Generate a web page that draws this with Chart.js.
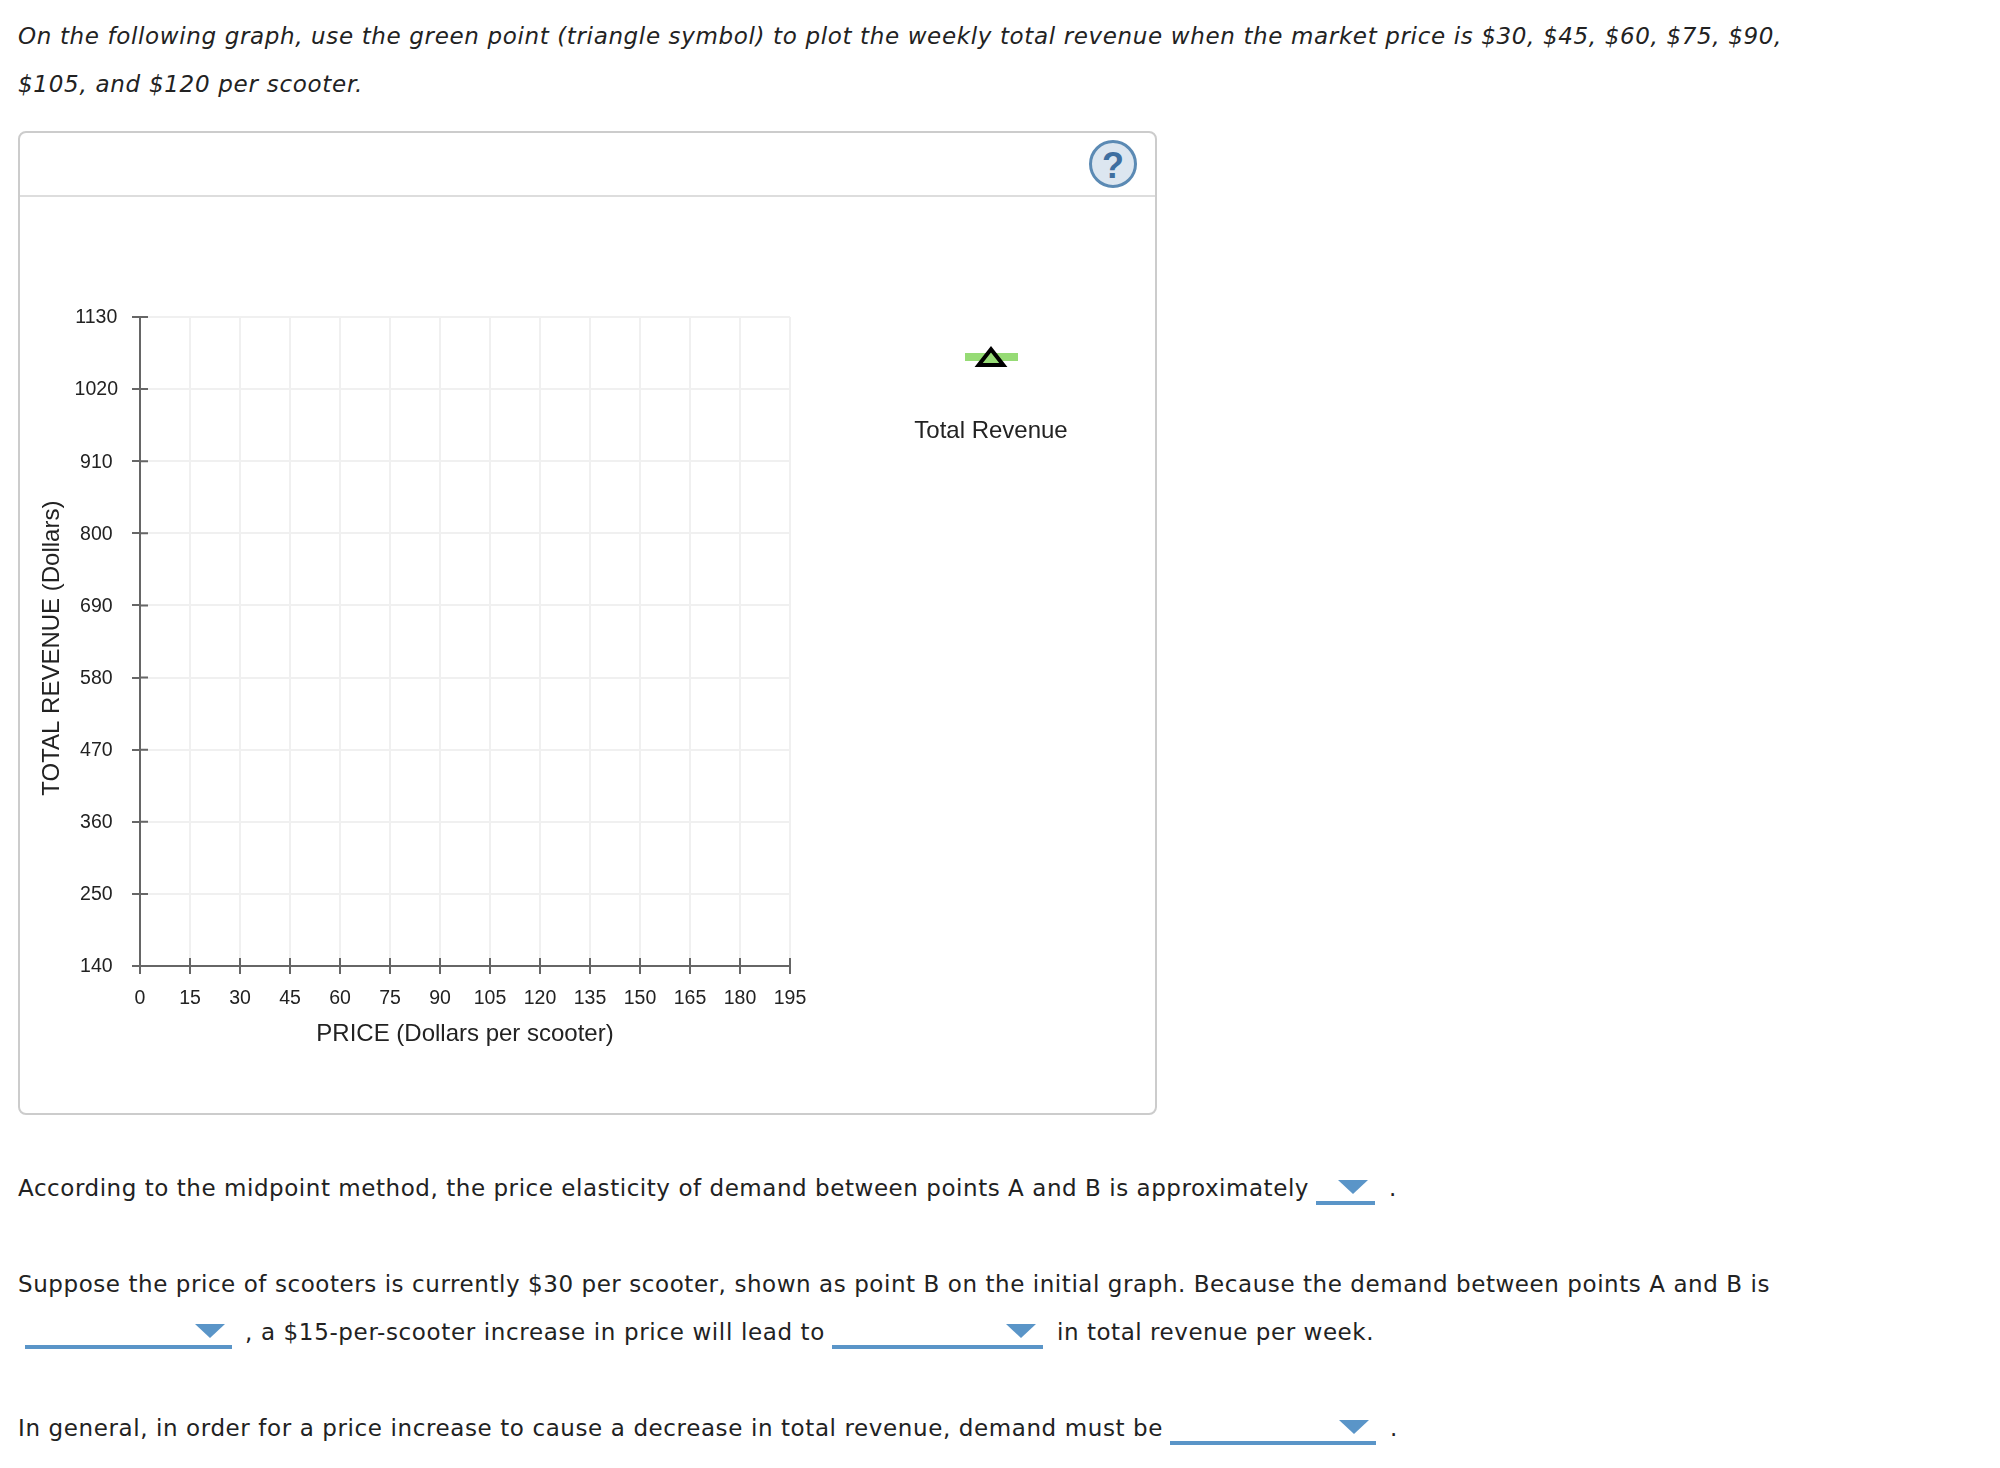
<!DOCTYPE html>
<html>
<head>
<meta charset="utf-8">
<title>Total revenue graph</title>
<script src="https://cdn.jsdelivr.net/npm/chart.js@4"></script>
<style>
    html, body { margin: 0; padding: 0; background: #fff; }
    body { position: relative; width: 2000px; height: 1468px; overflow: hidden; }
    .copy {
        position: absolute;
        font-family: "DejaVu Sans", sans-serif;
        font-size: 23px;
        line-height: 30px;
        color: #222;
        white-space: nowrap;
    }
    .copy.ask { font-style: italic; }
    #panel {
        position: absolute; left: 18px; top: 131px; width: 1135px; height: 980px;
        border: 2px solid #ccc; border-radius: 8px;
    }
    #panelRule { position: absolute; left: 20px; top: 195px; width: 1135px; height: 2px; background: #ddd; }
    #help {
        position: absolute; left: 1089px; top: 140px; width: 42px; height: 42px;
        border: 3px solid #5b8ab4; border-radius: 50%; background: #dce6f0;
        color: #3f6fa0; font: bold 36px/46px "Liberation Sans", sans-serif; text-align: center;
    }
    #chartBox { position: absolute; left: 20px; top: 197px; width: 1135px; height: 915px; }
    .underline { position: absolute; height: 4px; background: #5a95c8; }
    .arrow {
        position: absolute; width: 0; height: 0;
        border-left: 15px solid transparent; border-right: 15px solid transparent;
        border-top: 14px solid #5a95c8;
    }
</style>
</head>
<body>
<div id="panel"></div>
<div id="panelRule"></div>
<div id="help">?</div>
<div id="chartBox"><canvas id="revenueChart"></canvas></div>
<script>
// Axis ticks
const priceTicks = [0, 15, 30, 45, 60, 75, 90, 105, 120, 135, 150, 165, 180, 195];
const revenueTicks = [140, 250, 360, 470, 580, 690, 800, 910, 1020, 1130];

// The graph starts out empty, the student plots the points
const revenuePrices = [];
const revenueValues = [];

const seriesName = 'Total Revenue';
const xTitle = 'PRICE (Dollars per scooter)';
const yTitle = 'TOTAL REVENUE (Dollars)';

// Question text: words, left edge, vertical centre, measured width
const copyLines = [
    ['On the following graph, use the green point (triangle symbol) to plot the weekly total revenue when the market price is $30, $45, $60, $75, $90,', 18, 36, 1764, true],
    ['$105, and $120 per scooter.', 18, 84, 345, true],
    ['According to the midpoint method, the price elasticity of demand between points A and B is approximately', 18, 1188, 1291],
    ['.', 1389, 1188, 5],
    ['Suppose the price of scooters is currently $30 per scooter, shown as point B on the initial graph. Because the demand between points A and B is', 18, 1284, 1752],
    [', a $15-per-scooter increase in price will lead to', 245, 1332, 580],
    ['in total revenue per week.', 1057, 1332, 317],
    ['In general, in order for a price increase to cause a decrease in total revenue, demand must be', 18, 1428, 1145],
    ['.', 1390, 1428, 5]
];

// Dropdown blanks: underline left, right, y and arrow left, y
const dropdowns = [
    [1316, 1375, 1201, 1338, 1180],
    [25, 232, 1345, 195, 1324],
    [832, 1043, 1345, 1006, 1324],
    [1170, 1376, 1441, 1339, 1420]
];

const axisColor = '#666';
const gridColor = '#f0f0f0';
const labelColor = '#222';
const chartFont = '"Liberation Sans", Arial, sans-serif';

// Function to write the question text
function renderCopy() {
    copyLines.forEach(line => {
        const el = document.createElement('div');
        el.className = line[4] ? 'copy ask' : 'copy';
        el.textContent = line[0];
        el.style.left = line[1] + 'px';
        el.style.top = (line[2] - 15) + 'px';
        document.body.appendChild(el);
        // nudge the spacing so the line ends where it does in the original
        if (line[0].length > 1) {
            const extra = (line[3] - el.getBoundingClientRect().width) / line[0].length;
            el.style.letterSpacing = extra + 'px';
        }
    });
}

// Function to draw the dropdown blanks
function renderDropdowns() {
    dropdowns.forEach(d => {
        const bar = document.createElement('div');
        bar.className = 'underline';
        bar.style.left = d[0] + 'px';
        bar.style.width = (d[1] - d[0]) + 'px';
        bar.style.top = d[2] + 'px';
        document.body.appendChild(bar);

        const arrow = document.createElement('div');
        arrow.className = 'arrow';
        arrow.style.left = d[3] + 'px';
        arrow.style.top = d[4] + 'px';
        document.body.appendChild(arrow);
    });
}

// Tick marks cross the axis, chart.js only draws the outer half
const crossTicks = {
    id: 'crossTicks',
    afterDraw(chart) {
        const { ctx, scales, chartArea } = chart;
        ctx.save();
        ctx.strokeStyle = axisColor;
        ctx.lineWidth = 2;
        ctx.beginPath();
        scales.x.ticks.forEach((t, i) => {
            const x = scales.x.getPixelForTick(i);
            ctx.moveTo(x, chartArea.bottom);
            ctx.lineTo(x, chartArea.bottom - 8);
        });
        scales.y.ticks.forEach((t, i) => {
            const y = scales.y.getPixelForTick(i);
            ctx.moveTo(chartArea.left, y);
            ctx.lineTo(chartArea.left + 8, y);
        });
        ctx.stroke();
        ctx.restore();
    }
};

// Legend sits to the right of the plot with the symbol above the name
const sideLegend = {
    id: 'sideLegend',
    afterDraw(chart) {
        const { ctx } = chart;
        const ds = chart.data.datasets[0];
        const cx = 971;
        ctx.save();
        ctx.fillStyle = ds.backgroundColor;
        ctx.fillRect(cx - 26, 156, 53, 8);
        ctx.beginPath();
        ctx.moveTo(cx, 152.3);
        ctx.lineTo(cx + 12.3, 168);
        ctx.lineTo(cx - 12.3, 168);
        ctx.closePath();
        ctx.fill();
        ctx.strokeStyle = ds.borderColor;
        ctx.lineWidth = 4;
        ctx.lineJoin = 'miter';
        ctx.stroke();
        ctx.fillStyle = labelColor;
        ctx.font = '24px ' + chartFont;
        ctx.textAlign = 'center';
        ctx.textBaseline = 'middle';
        ctx.fillText(ds.label, cx, 234);
        ctx.restore();
    }
};

// Function to initialize the chart
function initChart() {
    const points = revenuePrices.map((p, i) => ({ x: p, y: revenueValues[i] }));

    new Chart(document.getElementById('revenueChart'), {
        type: 'scatter',
        data: {
            datasets: [{
                label: seriesName,
                data: points,
                pointStyle: 'triangle',
                pointRadius: 12,
                backgroundColor: '#96db75',
                borderColor: '#000',
                borderWidth: 4
            }]
        },
        options: {
            responsive: true,
            maintainAspectRatio: false,
            animation: false,
            layout: { padding: { top: 120, right: 365, left: 0, bottom: 63 } },
            plugins: { legend: { display: false }, tooltip: { enabled: false } },
            scales: {
                x: {
                    type: 'linear',
                    min: priceTicks[0],
                    max: priceTicks[priceTicks.length - 1],
                    afterBuildTicks: scale => { scale.ticks = priceTicks.map(v => ({ value: v })); },
                    afterFit: scale => { scale.height = 83; },
                    grid: { color: gridColor, lineWidth: 2, tickColor: axisColor, tickLength: 8, tickWidth: 2 },
                    border: { color: axisColor, width: 2 },
                    ticks: {
                        color: labelColor, maxRotation: 0, autoSkip: false, padding: 13,
                        callback: v => String(v),
                        font: { family: chartFont, size: 19.5 }
                    },
                    title: {
                        display: true, text: xTitle, color: labelColor, padding: { top: 12, bottom: 0 },
                        font: { family: chartFont, size: 24 }
                    }
                },
                y: {
                    type: 'linear',
                    min: revenueTicks[0],
                    max: revenueTicks[revenueTicks.length - 1],
                    afterBuildTicks: scale => { scale.ticks = revenueTicks.map(v => ({ value: v })); },
                    afterFit: scale => { scale.width = 120; },
                    grid: { color: gridColor, lineWidth: 2, tickColor: axisColor, tickLength: 8, tickWidth: 2 },
                    border: { color: axisColor, width: 2 },
                    ticks: {
                        color: labelColor, autoSkip: false, padding: 14, crossAlign: 'center', labelOffset: 1,
                        callback: v => String(v),
                        font: { family: chartFont, size: 19.5 }
                    },
                    title: {
                        display: true, text: yTitle + '  ', color: labelColor, padding: { top: 18, bottom: 0 },
                        font: { family: chartFont, size: 24 }
                    }
                }
            }
        },
        plugins: [crossTicks, sideLegend]
    });
}

renderCopy();
renderDropdowns();
initChart();
</script>
</body>
</html>
